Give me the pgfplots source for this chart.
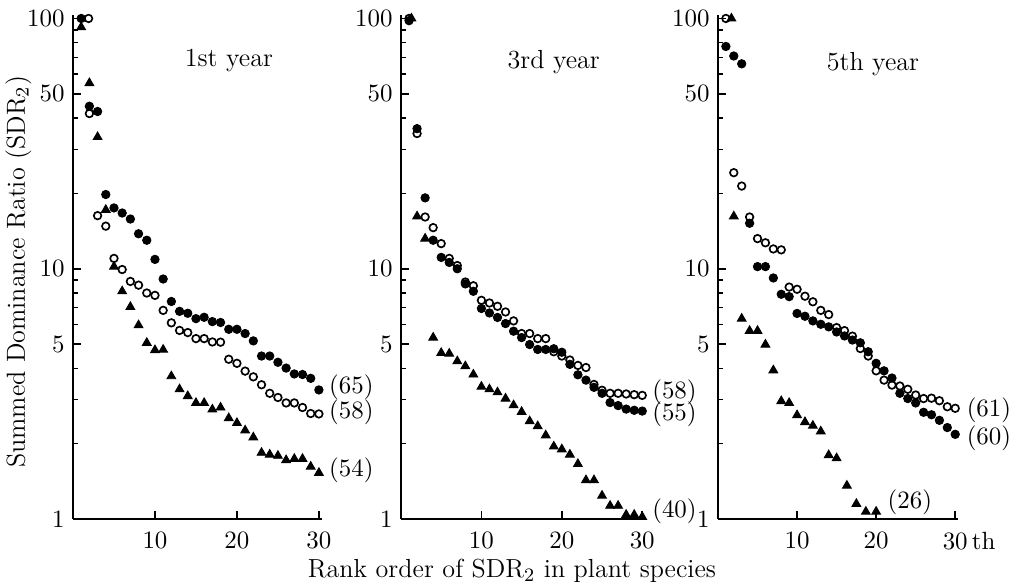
\documentclass[border=0pt]{standalone}
\usepackage{pgfplots}
\pgfplotsset{compat=1.18}
\usepackage{pgfplotstable}

% ---------- 1st year ----------
\pgfplotstableread{
x y
1 100
2 44.6
3 42.5
4 19.8
5 17.5
6 16.7
7 15.8
8 13.8
9 13.0
10 10.9
11 9.1
12 7.4
13 6.76
14 6.64
15 6.32
16 6.40
17 6.15
18 6.10
19 5.73
20 5.73
21 5.51
22 5.15
23 4.48
24 4.48
25 4.23
26 4.01
27 3.80
28 3.78
29 3.65
30 3.28
}\Af
\pgfplotstableread{
x y
1.9 100
2 41.7
3 16.3
4 14.8
5 11.0
6 9.93
7 8.9
8 8.6
9 8.0
10 7.83
11 6.82
12 6.08
13 5.67
14 5.56
15 5.26
16 5.26
17 5.10
18 5.09
19 4.35
20 4.19
21 3.90
22 3.70
23 3.44
24 3.18
25 3.06
26 2.91
27 2.91
28 2.79
29 2.64
30 2.63
}\Ao
\pgfplotstableread{
x y
1 92.3
2 55.2
3 33.6
4 17.2
5 10.2
6 8.13
7 7.04
8 5.95
9 5.06
10 4.73
11 4.75
12 3.72
13 3.30
14 3.10
15 2.91
16 2.91
17 2.74
18 2.79
19 2.53
20 2.42
21 2.26
22 2.12
23 1.84
24 1.81
25 1.79
26 1.72
27 1.74
28 1.74
29 1.62
30 1.53
}\At

% ---------- 3rd year ----------
\pgfplotstableread{
x y
1 98
2 36.3
3 19.2
4 13.0
5 11.1
6 10.6
7 10.0
8 8.7
9 8.13
10 6.94
11 6.66
12 6.39
13 6.04
14 5.63
15 5.31
16 4.98
17 4.76
18 4.76
19 4.79
20 4.64
21 4.15
22 3.77
23 3.59
24 3.36
25 3.18
26 2.92
27 2.84
28 2.75
29 2.72
30 2.70
}\Bf
\pgfplotstableread{
x y
1 100
2 34.7
3 16.1
4 14.6
5 12.6
6 11.0
7 10.3
8 8.85
9 8.55
10 7.48
11 7.30
12 7.08
13 6.72
14 6.19
15 5.51
16 5.51
17 5.26
18 5.26
19 4.66
20 4.48
21 4.32
22 4.11
23 4.03
24 3.45
25 3.27
26 3.18
27 3.18
28 3.16
29 3.14
30 3.12
}\Bo
\pgfplotstableread{
x y
1.3 100
2 16.2
3 13.2
4 5.31
5 4.61
6 4.58
7 4.27
8 4.08
9 3.78
10 3.38
11 3.30
12 3.21
13 3.03
14 2.85
15 2.68
16 2.46
17 2.35
18 2.16
19 1.95
20 1.90
21 1.81
22 1.66
23 1.43
24 1.43
25 1.24
26 1.13
27 1.13
28 1.04
29 1.04
30 1.02
}\Bt

% ---------- 5th year ----------
\pgfplotstableread{
x y
1 77.3
2 70.8
3 65.9
4 15.2
5 10.2
6 10.2
7 9.19
8 7.91
9 7.74
10 6.63
11 6.46
12 6.19
13 6.0
14 5.86
15 5.59
16 5.39
17 5.19
18 5.06
19 4.66
20 4.19
21 3.91
22 3.66
23 3.18
24 3.03
25 2.91
26 2.67
27 2.61
28 2.48
29 2.32
30 2.18
}\Cf
\pgfplotstableread{
x y
1 100
2 24.2
3 21.4
4 16.1
5 13.2
6 12.7
7 12.0
8 11.9
9 8.45
10 8.28
11 7.77
12 7.38
13 6.82
14 6.56
15 5.82
16 5.66
17 5.38
18 4.80
19 4.48
20 3.91
21 3.59
22 3.43
23 3.40
24 3.30
25 3.13
26 3.03
27 3.04
28 2.97
29 2.81
30 2.77
}\Co
\pgfplotstableread{
x y
1.7 100
2 16.2
3 6.32
4 5.65
5 5.65
6 4.98
7 3.93
8 2.96
9 2.91
10 2.60
11 2.44
12 2.36
13 2.24
14 1.80
15 1.75
16.3 1.36
17.5 1.15
18.7 1.07
20 1.07
}\Ct

\tikzset{
  sdrlab/.style={anchor=west, font=\fontsize{10.5}{12}\selectfont, inner sep=1pt},
  sdrtitle/.style={anchor=west, font=\fontsize{11}{12}\selectfont, inner sep=1pt},
}

\begin{document}
\begin{tikzpicture}
\pgfplotsset{
  every axis/.append style={
    scale only axis, ymode=log, ymin=1, ymax=103, xmin=0, xmax=30.4,
    height=7.46cm, axis lines*=left,
    axis line style={line width=0.9pt},
    tick align=inside, major tick length=3.5pt, minor tick length=2.2pt,
    major tick style={line width=0.7pt, black},
    minor tick style={line width=0.6pt, black},
    xtick={10,20,30},
    ytick={1,5,10,50,100}, yticklabels={1,5,10,50,100},
    minor ytick={2,3,4,6,7,8,9,20,30,40,60,70,80,90},
    clip=false,
    tick label style={font=\fontsize{10.5}{12}\selectfont},
    xticklabel style={yshift=-2pt},
  },
}
\begin{axis}[width=3.69cm, at={(0cm,0cm)}, anchor=south west, xticklabels={10,20,30}]
  \addplot[only marks, mark=*, mark size=1.75pt, black] table {\Af};
  \addplot[only marks, mark=o, mark size=1.6pt, black, mark options={line width=0.7pt, fill=white}] table {\Ao};
  \addplot[only marks, mark=triangle*, mark size=2.1pt, black] table {\At};
  \node[sdrlab] at (axis cs:30.9,3.37) {(65)};
  \node[sdrlab] at (axis cs:30.9,2.67) {(58)};
  \node[sdrlab] at (axis cs:30.9,1.57) {(54)};
  \node[sdrtitle] at (axis cs:13.3,68) {1st year};
\end{axis}
\begin{axis}[width=3.62cm, at={(4.857cm,0cm)}, anchor=south west, xticklabels={10,20,30}]
  \addplot[only marks, mark=*, mark size=1.75pt, black] table {\Bf};
  \addplot[only marks, mark=o, mark size=1.6pt, black, mark options={line width=0.7pt, fill=white}] table {\Bo};
  \addplot[only marks, mark=triangle*, mark size=2.1pt, black] table {\Bt};
  \node[sdrlab] at (axis cs:30.9,3.22) {(58)};
  \node[sdrlab] at (axis cs:30.9,2.63) {(55)};
  \node[sdrlab] at (axis cs:30.9,1.07) {(40)};
  \node[sdrtitle] at (axis cs:12.9,67) {3rd year};
\end{axis}
\begin{axis}[width=3.56cm, at={(9.551cm,0cm)}, anchor=south west,
  xticklabels={10,20,{30\rlap{\,th}}}]
  \addplot[only marks, mark=*, mark size=1.75pt, black] table {\Cf};
  \addplot[only marks, mark=o, mark size=1.6pt, black, mark options={line width=0.7pt, fill=white}] table {\Co};
  \addplot[only marks, mark=triangle*, mark size=2.1pt, black] table {\Ct};
  \node[sdrlab] at (axis cs:31.1,2.72) {(61)};
  \node[sdrlab] at (axis cs:31.1,2.10) {(60)};
  \node[sdrlab] at (axis cs:21.1,1.17) {(26)};
  \node[sdrtitle] at (axis cs:13.4,66) {5th year};
\end{axis}
\node[rotate=90, font=\fontsize{11}{13}\selectfont] at (-0.81cm,3.66cm) {Summed Dominance Ratio (SDR$_2$)};
\node[font=\fontsize{11}{13}\selectfont] at (6.50cm,-0.77cm) {Rank order of SDR$_2$ in plant species};
\pgfresetboundingbox
\path[use as bounding box] (-1.081cm,-0.977cm) rectangle (13.92cm,7.686cm);
\end{tikzpicture}
\end{document}
